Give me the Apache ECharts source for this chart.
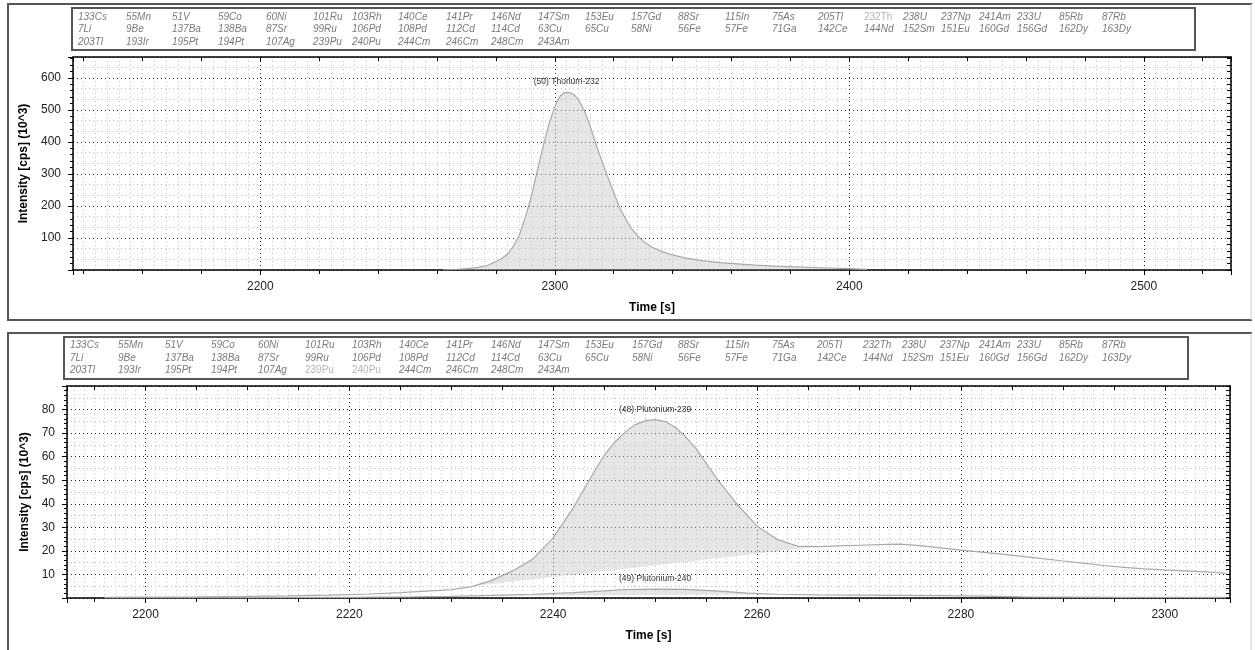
<!DOCTYPE html>
<html><head><meta charset="utf-8">
<script src="https://cdn.jsdelivr.net/npm/echarts@6/dist/echarts.min.js"></script>
<style>html,body{margin:0;padding:0;background:#fff}#c{width:1255px;height:650px}</style>
</head><body><div id="c"></div>
<script>
// ---------------- DATA ----------------
const isotopes = [
  '133Cs','55Mn','51V','59Co','60Ni','101Ru','103Rh','140Ce','141Pr','146Nd','147Sm','153Eu','157Gd','88Sr','115In','75As','205Tl','232Th','238U','237Np','241Am','233U','85Rb','87Rb',
  '7Li','9Be','137Ba','138Ba','87Sr','99Ru','106Pd','108Pd','112Cd','114Cd','63Cu','65Cu','58Ni','56Fe','57Fe','71Ga','142Ce','144Nd','152Sm','151Eu','160Gd','156Gd','162Dy','163Dy',
  '203Tl','193Ir','195Pt','194Pt','107Ag','239Pu','240Pu','244Cm','246Cm','248Cm','243Am'
];
const topHighlighted = ['232Th'];
const bottomHighlighted = ['239Pu', '240Pu'];

const thTime = [2262,2266,2270,2274,2277,2280,2282,2284,2286,2288,2290,2292,2294,2296,2298,2300,2301,2302,2303,2304,2305,2306,2307,2308,2310,2312,2314,2316,2318,2320,2322,2324,2326,2328,2330,2333,2336,2340,2344,2350,2356,2362,2368,2375,2382,2390,2400,2406];
const thIntensity = [0,1.5,4,8,14,26,36,50,75,110,165,228,308,385,455,510,530,545,552,555,554,550,543,532,498,450,392,340,290,242,195,160,130,108,90,71,59,47,38,29,23,19,15,12,9.5,7,4,2];
const thPeakWindow = [2262, 2406];
const thLabel = '(50) Thorium-232';

const pu239Time = [2196,2200,2205,2210,2214,2218,2222,2225,2228,2230,2232,2234,2236,2238,2240,2242,2244,2245,2246,2247,2248,2249,2250,2251,2252,2253,2254,2256,2258,2260,2262,2264,2266,2268,2270,2272,2274,2276,2278,2280,2282,2284,2286,2288,2290,2292,2294,2296,2298,2300,2302,2304,2306];
const pu239Intensity = [0.3,0.4,0.5,0.7,0.9,1.2,1.7,2.3,3.0,3.5,4.8,7.5,11.5,16.5,25.5,38.5,53.5,60.5,66,70.2,73.5,75.2,75.7,74.9,72.4,68.4,63.5,51,40,30.5,24.8,22,21.8,22.1,22.4,22.7,22.9,22.2,21.3,20.3,19.5,18.6,17.7,16.7,15.7,14.8,13.8,13,12.4,11.9,11.5,11.1,10.5];
const pu239PeakWindow = [2228, 2266];
const pu239Label = '(48) Plutonium-239';

const pu240Time = [2196,2210,2220,2226,2230,2234,2238,2242,2245,2247,2250,2253,2255,2257,2259,2262,2266,2270,2274,2278,2282,2286,2290,2296,2306];
const pu240Intensity = [0.1,0.2,0.3,0.5,0.7,1.1,1.6,2.3,3.0,3.6,3.8,3.7,3.2,2.7,2.1,1.6,1.3,1.2,1.1,1.0,0.8,0.5,0.4,0.3,0.3];
const pu240PeakWindow = [2230, 2262];
const pu240Label = '(49) Plutonium-240';

const topXRange = [2136.4, 2529.6];
const topYRange = [0, 665];
const bottomXRange = [2192.3, 2306.4];
const bottomYRange = [0, 90];

// ---------------- LAYOUT ----------------
const FONT = '"Liberation Sans", Arial, sans-serif';
const topLegendCols = [78,126,172,218,266,313,352,398,446,491,538,585,631,678,725,772,818,864,903,941,979,1017,1059,1102];
const bottomLegendCols = [70,118,165,211,258,305,352,399,446,491,538,585,632,678,725,772,817,863,902,940,979,1017,1059,1102];
const topLegendRows = [17, 29.5, 42];
const bottomLegendRows = [345.5, 358, 370.5];

function legendTexts(cols, rows, highlighted) {
  return isotopes.map((name, i) => {
    const hl = highlighted.includes(name);
    return {
      type: 'text', x: cols[i % 24], y: rows[Math.floor(i / 24)], silent: true,
      style: {
        text: name, fill: hl ? '#b4b4b4' : '#7a7a7a',
        font: (hl ? 'normal ' : 'italic ') + '10px ' + FONT,
        verticalAlign: 'middle', align: 'left'
      }
    };
  });
}

function pairs(ts, vs) { return ts.map((t, i) => [t, vs[i]]); }

function lineSeries(gi, ts, vs, label) {
  const s = {
    type: 'line', xAxisIndex: gi * 3, yAxisIndex: gi * 3, data: pairs(ts, vs),
    showSymbol: false, symbol: 'none', smooth: false, clip: true,
    lineStyle: { color: '#a9a9a9', width: 1.2 }, z: 5, silent: true
  };
  if (label) {
    s.markPoint = {
      symbol: 'circle', symbolSize: 0, silent: true,
      data: [{ type: 'max', name: label }],
      label: { show: true, position: 'top', distance: 6, formatter: label,
               fontSize: 8.5, fontFamily: FONT, color: '#333' }
    };
  }
  return s;
}

function peakSeries(gi, ts, vs, win) {
  const pts = pairs(ts, vs).filter(d => d[0] >= win[0] && d[0] <= win[1]);
  return {
    type: 'custom', xAxisIndex: gi * 3, yAxisIndex: gi * 3, data: pts, clip: true, silent: true, z: 4,
    encode: { x: 0, y: 1 },
    renderItem: (params, api) => {
      if (params.dataIndex !== 0) return null;
      return { type: 'polygon', shape: { points: pts.map(p => api.coord(p)) },
               style: { fill: 'rgba(200,200,200,0.45)' } };
    }
  };
}

const plainNum = v => String(Math.round(v));

function axesFor(gi, xr, yr, xSplit, xMinorSplit, xFineSplit, yInterval, yMinorSplit, yFineSplit, yNameGap) {
  const axisLine = { show: true, onZero: false, lineStyle: { color: '#000', width: 1.5 } };
  const darkDots = { show: true, lineStyle: { color: '#222', width: 1, type: [1, 3] } };
  const lightDots = { show: true, lineStyle: { color: '#c0c0c0', width: 1, type: [1, 3] } };
  const x = [
    { type: 'value', gridIndex: gi, position: 'bottom', min: xr[0], max: xr[1], splitNumber: xSplit,
      axisLine, axisTick: { show: true, length: 5, lineStyle: { color: '#000' } },
      minorTick: { show: true, splitNumber: xMinorSplit, length: 4, lineStyle: { color: '#000' } },
      axisLabel: { color: '#222', fontSize: 12, fontFamily: FONT, margin: 11, showMinLabel: false, showMaxLabel: false, formatter: plainNum },
      splitLine: darkDots, minorSplitLine: { show: false },
      name: 'Time [s]', nameLocation: 'middle', nameGap: 32,
      nameTextStyle: { fontWeight: 'bold', fontSize: 12, fontFamily: FONT, color: '#000' } },
    { type: 'value', gridIndex: gi, position: 'top', min: xr[0], max: xr[1], splitNumber: xSplit,
      axisLine, axisTick: { show: true, inside: true, length: 4, lineStyle: { color: '#000' } },
      minorTick: { show: true, splitNumber: xMinorSplit, length: 4, lineStyle: { color: '#000' } },
      axisLabel: { show: false }, splitLine: { show: false } },
    { type: 'value', gridIndex: gi, position: 'top', offset: 0, min: xr[0], max: xr[1], splitNumber: xSplit,
      axisLine: { show: false }, axisTick: { show: false }, axisLabel: { show: false },
      splitLine: { show: false },
      minorTick: { show: false, splitNumber: xFineSplit }, minorSplitLine: lightDots }
  ];
  const y = [
    { type: 'value', gridIndex: gi, position: 'left', min: yr[0], max: yr[1], interval: yInterval,
      axisLine, axisTick: { show: true, length: 5, lineStyle: { color: '#000' } },
      minorTick: { show: true, splitNumber: yMinorSplit, length: 3, lineStyle: { color: '#000' } },
      axisLabel: { color: '#222', fontSize: 12, fontFamily: FONT, margin: 12, showMinLabel: false, showMaxLabel: false, formatter: plainNum },
      splitLine: darkDots,
      name: 'Intensity [cps] (10^3)', nameLocation: 'middle', nameGap: yNameGap,
      nameTextStyle: { fontWeight: 'bold', fontSize: 12, fontFamily: FONT, color: '#000' } },
    { type: 'value', gridIndex: gi, position: 'right', min: yr[0], max: yr[1], interval: yInterval,
      axisLine, axisTick: { show: true, inside: true, length: 4, lineStyle: { color: '#000' } },
      minorTick: { show: true, splitNumber: yMinorSplit, length: 4, lineStyle: { color: '#000' } },
      axisLabel: { show: false }, splitLine: { show: false } },
    { type: 'value', gridIndex: gi, position: 'right', min: yr[0], max: yr[1], interval: yInterval,
      axisLine: { show: false }, axisTick: { show: false }, axisLabel: { show: false },
      splitLine: { show: false },
      minorTick: { show: false, splitNumber: yFineSplit }, minorSplitLine: lightDots }
  ];
  return { x, y };
}

const topAxes = axesFor(0, topXRange, topYRange, 5, 5, 25, 100, 5, 3, 37);
const botAxes = axesFor(1, bottomXRange, bottomYRange, 5, 4, 20, 10, 5, 2, 30);

const frameDark = { stroke: '#555', lineWidth: 2 };
const frameLight = { stroke: '#cfcfcf', lineWidth: 1 };
const chart = echarts.init(document.getElementById('c'), null, { renderer: 'canvas' });
chart.setOption({
  backgroundColor: '#fff',
  animation: false,
  grid: [
    { left: 73, top: 57, width: 1158, height: 213 },
    { left: 67, top: 386, width: 1163, height: 212 }
  ],
  xAxis: topAxes.x.concat(botAxes.x),
  yAxis: topAxes.y.concat(botAxes.y),
  series: [
    peakSeries(0, thTime, thIntensity, thPeakWindow),
    lineSeries(0, thTime, thIntensity, thLabel),
    peakSeries(1, pu239Time, pu239Intensity, pu239PeakWindow),
    peakSeries(1, pu240Time, pu240Intensity, pu240PeakWindow),
    lineSeries(1, pu239Time, pu239Intensity, pu239Label),
    lineSeries(1, pu240Time, pu240Intensity, pu240Label)
  ],
  graphic: [
    { type: 'polyline', shape: { points: [[1252, 4], [8, 4], [8, 320], [1252, 320]] }, style: frameDark, silent: true },
    { type: 'line', shape: { x1: 1251, y1: 4, x2: 1251, y2: 320 }, style: frameLight, silent: true },
    { type: 'polyline', shape: { points: [[1252, 333], [8, 333], [8, 652]] }, style: frameDark, silent: true },
    { type: 'line', shape: { x1: 1251, y1: 333, x2: 1251, y2: 650 }, style: frameLight, silent: true },
    { type: 'rect', shape: { x: 72, y: 8, width: 1123, height: 42 }, style: { fill: '#fff', stroke: '#555', lineWidth: 2 }, silent: true },
    { type: 'rect', shape: { x: 64, y: 337, width: 1124, height: 42 }, style: { fill: '#fff', stroke: '#555', lineWidth: 2 }, silent: true }
  ].concat(legendTexts(topLegendCols, topLegendRows, topHighlighted))
   .concat(legendTexts(bottomLegendCols, bottomLegendRows, bottomHighlighted))
});
</script></body></html>
